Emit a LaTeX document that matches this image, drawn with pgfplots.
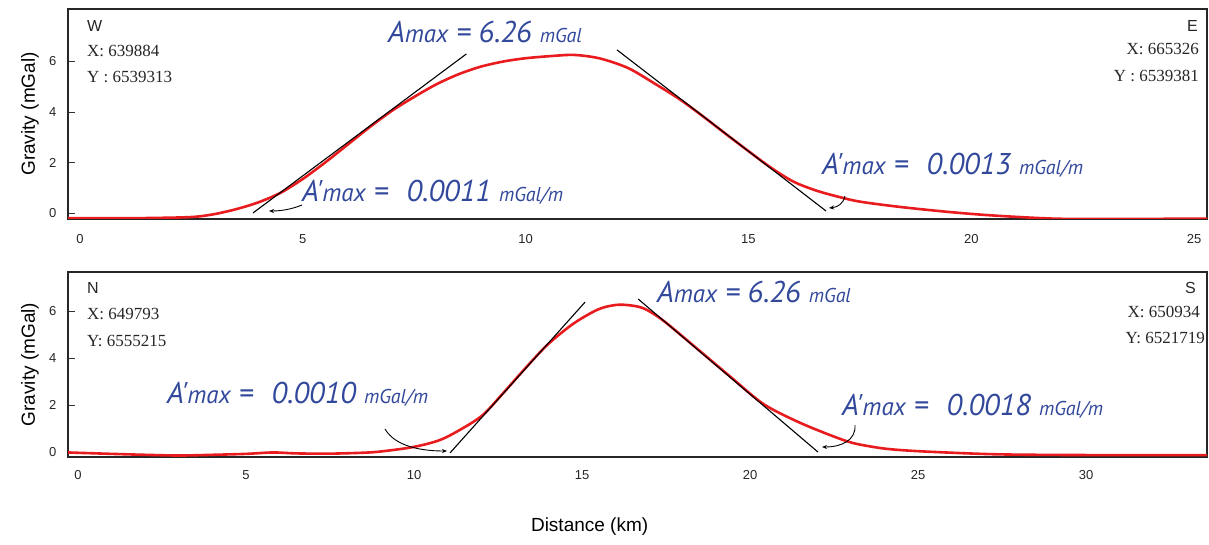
\documentclass[border=0pt]{standalone}
\usepackage{pgfplots}
\pgfplotsset{compat=1.18}
\usepackage{fontspec}
\setmainfont{Liberation Sans}
\newfontfamily\coordfont{Liberation Serif}
\newfontfamily\notefont{PT Sans}
\usetikzlibrary{arrows.meta}

\definecolor{noteblue}{RGB}{50,72,155}
\definecolor{gravred}{RGB}{232,28,30}

% annotation pieces
\newcommand{\amax}[1]{{\fontsize{30}{30}\selectfont A#1}{\fontsize{25}{25}\selectfont max}}
\newcommand{\unitsz}[1]{{\fontsize{20}{20}\selectfont #1}}
\newcommand{\note}[1]{{\notefont\itshape\color{noteblue}\fontsize{30}{30}\selectfont #1}}

\pgfplotsset{
  gravaxis/.style={
    scale only axis, width=1139pt,
    axis line style={line width=1.5pt, black!85},
    ytick={0,2,4,6},
    tick align=inside, major tick length=7pt,
    ytick pos=left, xtick pos=bottom,
    ytick style={line width=0.8pt, black!80},
    xtick style={draw=none},
    tick label style={font=\fontsize{13}{15}\selectfont, text=black!85},
    /pgf/number format/assume math mode=true,
    yticklabel style={xshift=-8pt},
    ylabel={Gravity (mGal)},
    ylabel style={font=\fontsize{19}{22}\selectfont,
      at={(axis description cs:-0.0334,0.5)}, anchor=center},
  },
  gravcurve/.style={gravred, line width=2.6pt, smooth},
  tangent/.style={black, line width=1.1pt},
}

\begin{document}
\begin{tikzpicture}[x=1pt, y=1pt]
\useasboundingbox (0,0) rectangle (1209,544);

% W-E profile
\begin{axis}[gravaxis, height=210pt, at={(68pt,325pt)}, anchor=south west,
  xmin=-0.27, xmax=25.29, ymin=-0.238, ymax=8.08,
  xtick={0,5,10,15,20,25}, xticklabel style={yshift=-12pt}]
\addplot[gravcurve] coordinates {
  (-0.27,-0.20) (0.5,-0.21) (1.5,-0.20) (2.5,-0.16) (3.0,-0.05) (3.5,0.15)
  (4.0,0.42) (4.5,0.80) (5.0,1.35) (5.5,2.00) (6.0,2.70) (6.5,3.40)
  (7.0,4.05) (7.5,4.60) (8.0,5.10) (8.5,5.50) (9.0,5.80) (9.5,6.00)
  (10.0,6.13) (10.6,6.22) (11.1,6.26) (11.67,6.12) (12.3,5.74) (12.9,5.12)
  (13.46,4.50) (14.0,3.80) (14.5,3.12) (15.0,2.45) (15.5,1.80) (16.0,1.25)
  (16.5,0.90) (17.0,0.65) (17.5,0.45) (18.4,0.24) (19.5,0.04) (20.5,-0.10)
  (21.8,-0.22) (23.0,-0.24) (25.29,-0.22)
};
\addplot[tangent] coordinates {(3.88,0.00) (8.67,6.30)};
\addplot[tangent] coordinates {(12.05,6.46) (16.74,0.08)};
\end{axis}

% N-S profile
\begin{axis}[gravaxis, height=185pt, at={(68pt,87pt)}, anchor=south west,
  xmin=-0.30, xmax=33.6, ymin=-0.213, ymax=7.66,
  xtick={0,5,10,15,20,25,30}, xticklabel style={yshift=-10pt},
  xlabel={Distance (km)},
  xlabel style={font=\fontsize{19}{22}\selectfont,
    at={(axis description cs:0.458,-0.378)}, anchor=center}]
\addplot[gravcurve] coordinates {
  (-0.30,-0.02) (1.0,-0.08) (2.0,-0.12) (3.0,-0.15) (4.0,-0.12) (5.0,-0.08)
  (5.8,-0.02) (6.5,-0.06) (7.5,-0.07) (8.5,-0.03) (9.0,0.02) (9.97,0.21)
  (10.77,0.51) (11.46,1.02) (12.05,1.58) (12.65,2.50) (13.24,3.45)
  (13.96,4.55) (14.73,5.45) (15.45,6.05) (15.92,6.24) (16.3,6.26)
  (16.82,6.12) (17.41,5.60) (18.42,4.40) (19.4,3.22) (20.39,2.05)
  (21.4,1.30) (22.38,0.72) (23.07,0.38) (23.87,0.17) (24.5,0.08)
  (25.5,0.00) (27.4,-0.10) (30.0,-0.13) (33.6,-0.13)
};
\addplot[tangent] coordinates {(11.07,-0.04) (15.09,6.38)};
\addplot[tangent] coordinates {(16.67,6.51) (22.02,0.00)};
\end{axis}

% profile end labels and coordinates
\begin{scope}[every node/.style={inner sep=0pt, text=black!85}]
\node[anchor=base west, font=\fontsize{16}{16}\selectfont] at (87,512) {W};
\node[anchor=base west, font=\coordfont\fontsize{17}{17}\selectfont] at (87,487) {X: 639884};
\node[anchor=base west, font=\coordfont\fontsize{17}{17}\selectfont] at (87,461) {Y : 6539313};
\node[anchor=base east, font=\fontsize{16}{16}\selectfont] at (1198,512) {E};
\node[anchor=base east, font=\coordfont\fontsize{17}{17}\selectfont] at (1199,489) {X: 665326};
\node[anchor=base east, font=\coordfont\fontsize{17}{17}\selectfont] at (1199,462) {Y : 6539381};

\node[anchor=base west, font=\fontsize{16}{16}\selectfont] at (87,251) {N};
\node[anchor=base west, font=\coordfont\fontsize{17}{17}\selectfont] at (87,225) {X: 649793};
\node[anchor=base west, font=\coordfont\fontsize{17}{17}\selectfont] at (87,198) {Y: 6555215};
\node[anchor=base east, font=\fontsize{16}{16}\selectfont] at (1196,251) {S};
\node[anchor=base east, font=\coordfont\fontsize{17}{17}\selectfont] at (1200,227) {X: 650934};
\node[anchor=base east, font=\coordfont\fontsize{17}{17}\selectfont] at (1205,201) {Y: 6521719};
\end{scope}

% anomaly annotations
\begin{scope}[every node/.style={inner sep=0pt, anchor=base west}]
\node at (388,501) {\note{\amax{} = 6.26 \unitsz{mGal}}};
\node at (302,342) {\note{\amax{'} =\hspace{0.35em} 0.0011 \unitsz{mGal/m}}};
\node at (822,369) {\note{\amax{'} =\hspace{0.35em} 0.0013 \unitsz{mGal/m}}};
\node at (657,242) {\note{\amax{} = 6.26 \unitsz{mGal}}};
\node at (167,141) {\note{\amax{'} =\hspace{0.35em} 0.0010 \unitsz{mGal/m}}};
\node at (842,129) {\note{\amax{'} =\hspace{0.35em} 0.0018 \unitsz{mGal/m}}};
\end{scope}

\begin{scope}[line width=0.9pt, -{Stealth[length=5pt,width=4pt]}]
\draw (302,339) .. controls (292,335) and (282,333) .. (269,333);
\draw (845,348) .. controls (843,340) and (838,337) .. (829,336);
\draw (385,115) .. controls (395,98) and (420,93) .. (447,93);
\draw (855,119) .. controls (856,104) and (842,97) .. (822,97);
\end{scope}
\end{tikzpicture}
\end{document}
